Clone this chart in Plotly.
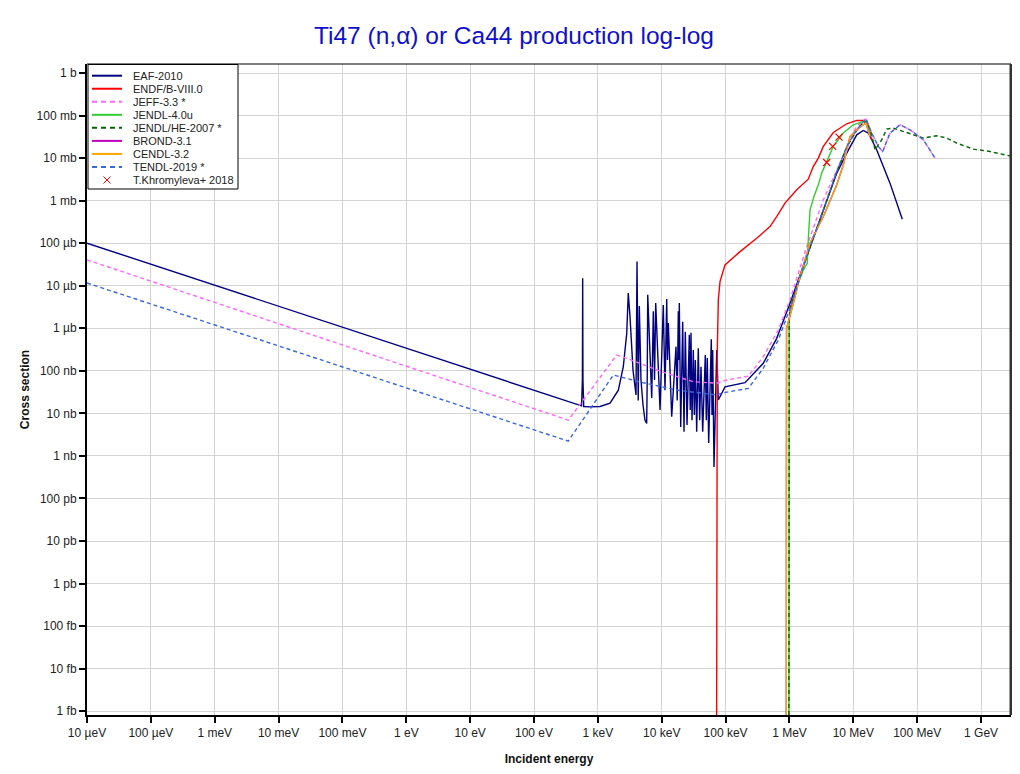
import plotly.graph_objects as go

# ---------------- data: incident energy (eV), cross section (barn) ----------------
x_tick_vals = [1e-5, 1e-4, 1e-3, 1e-2, 1e-1, 1, 10, 100, 1e3, 1e4, 1e5, 1e6, 1e7, 1e8, 1e9]
x_tick_text = ["10 µeV", "100 µeV", "1 meV", "10 meV", "100 meV", "1 eV", "10 eV", "100 eV",
               "1 keV", "10 keV", "100 keV", "1 MeV", "10 MeV", "100 MeV", "1 GeV"]
y_tick_vals = [1e-15, 1e-14, 1e-13, 1e-12, 1e-11, 1e-10, 1e-9, 1e-8, 1e-7, 1e-6,
               1e-5, 1e-4, 1e-3, 1e-2, 1e-1, 1]
y_tick_text = ["1 fb", "10 fb", "100 fb", "1 pb", "10 pb", "100 pb", "1 nb", "10 nb", "100 nb",
               "1 µb", "10 µb", "100 µb", "1 mb", "10 mb", "100 mb", "1 b"]

eaf_2010 = [
    (1e-5, 1.0e-4), (430, 1.75e-8), (555, 1.5e-8), (572, 6e-8), (578, 1.5e-5), (584, 6e-8),
    (600, 1.45e-8), (754, 1.42e-8), (1080, 1.45e-8), (1550, 1.73e-8), (2090, 3.5e-8),
    (2500, 1.25e-7), (2830, 7.6e-7), (2990, 6.7e-6), (3184, 1.87e-6), (3548, 1.04e-7),
    (3954, 2.7e-8), (4100, 3.7e-5), (4280, 2e-8), (4455, 3.35e-6), (4730, 6.1e-8),
    (5090, 1.57e-8), (5470, 6.9e-9), (5810, 5.8e-9), (5920, 6.1e-8), (6030, 6.1e-6),
    (6970, 2.3e-8), (7380, 2.5e-6), (7710, 6.1e-8), (8040, 3.9e-6), (9400, 1.2e-8),
    (10570, 3.5e-6), (11250, 3.5e-8), (11960, 4.9e-6), (12300, 1.8e-7), (12680, 1.33e-6),
    (14320, 8.3e-9), (16720, 3.7e-7), (17460, 2e-8), (18170, 2.5e-6), (18500, 1.8e-7),
    (18840, 3.9e-6), (19820, 4.8e-9), (21290, 1.43e-6), (22320, 3.7e-9), (23390, 8.3e-7),
    (24890, 5.3e-9), (27020, 7e-7), (27920, 1.2e-8), (28710, 7.8e-7), (29780, 6.9e-9),
    (31190, 3.1e-7), (32360, 9.1e-9), (33560, 1.8e-7), (35250, 3.7e-9), (37350, 3.4e-7),
    (39270, 6.9e-9), (41170, 1.25e-7), (43760, 3.7e-9), (48090, 2.35e-7), (49870, 6.9e-9),
    (51660, 2e-7), (54330, 2e-9), (59700, 5.5e-7), (61240, 9.1e-9), (62800, 3.1e-7),
    (65800, 5.5e-10), (72600, 3.1e-7), (76900, 2.06e-8), (97900, 4.2e-8), (201400, 5.25e-8),
    (389000, 1.5e-7), (631000, 5.8e-7), (1.02e6, 3.9e-6), (1.86e6, 4.84e-5), (3.39e6, 6.1e-4),
    (5.5e6, 4.44e-3), (7.88e6, 0.0131), (1.13e7, 0.0353), (1.43e7, 0.0446), (1.72e7, 0.0388),
    (2.32e7, 0.0157), (3.75e7, 2.58e-3), (5.85e7, 3.67e-4),
]

endf_b_viii0 = [
    (71000, 1e-22), (72600, 1.4e-9), (74100, 3.1e-7), (76900, 4.6e-6), (81700, 1.25e-5),
    (97900, 3.08e-5), (168300, 6.34e-5), (306900, 1.31e-4), (495500, 2.46e-4), (631000, 4.23e-4),
    (851000, 8.73e-4), (1.30e6, 1.8e-3), (1.97e6, 3.2e-3), (2.36e6, 6.34e-3), (2.83e6, 0.01),
    (3.39e6, 0.0188), (4.86e6, 0.04), (7.88e6, 0.0641), (1.13e7, 0.0767), (1.43e7, 0.0767),
    (1.62e7, 0.0608), (1.94e7, 0.027),
]

jeff_33 = [
    (1e-5, 4.05e-5), (344, 6.95e-9), (1970, 2.35e-7), (2825, 1.97e-7), (10000, 9.5e-8),
    (31200, 5.54e-8), (72600, 5.1e-8), (100000, 6.0e-8), (227000, 7.5e-8), (389000, 2.15e-7),
    (668000, 9.1e-7), (1.02e6, 4.63e-6), (1.86e6, 8.3e-5), (3.39e6, 1.04e-3), (6.18e6, 7.6e-3),
    (8.87e6, 0.027), (1.13e7, 0.0554), (1.43e7, 0.0767), (1.58e7, 0.0828), (1.94e7, 0.0388),
    (2.46e7, 0.0188), (2.88e7, 0.0143), (3.75e7, 0.0388), (5.38e7, 0.0608), (7.72e7, 0.0463),
    (1.25e8, 0.027), (1.9e8, 0.01),
]

jendl_40u = [
    (973000, 1e-22), (990000, 1.5e-6), (1.02e6, 2.25e-6), (1.3e6, 9.5e-6), (1.65e6, 2.35e-5),
    (1.9e6, 3.38e-5), (1.97e6, 1.2e-4), (2.1e6, 6.08e-4), (2.42e6, 1.25e-3), (2.83e6, 2.35e-3),
    (3.2e6, 4.44e-3), (3.83e6, 8.3e-3), (4.86e6, 0.0188), (6.97e6, 0.0388), (1.0e7, 0.0608),
    (1.43e7, 0.0727), (1.62e7, 0.0688), (1.94e7, 0.0322),
]

jendl_he_2007 = [
    (973000, 1e-22), (990000, 1.5e-6), (1.02e6, 3.0e-6), (1.86e6, 4.7e-5), (3.39e6, 6.0e-4),
    (5.5e6, 4.6e-3), (7.88e6, 0.018), (1.13e7, 0.045), (1.43e7, 0.07), (1.62e7, 0.075),
    (1.94e7, 0.035), (2.19e7, 0.0157), (2.79e7, 0.027), (3.33e7, 0.0481), (4.23e7, 0.0508),
    (6.07e7, 0.0423), (9.83e7, 0.0322), (1.25e8, 0.0296), (2.02e8, 0.0335), (2.9e8, 0.0296),
    (4.16e8, 0.0225), (7.57e8, 0.0163), (1.38e9, 0.0143), (3.0e9, 0.011),
]

brond_31 = [
    (885000, 1e-22), (900000, 1.0e-6), (1.15e6, 3.88e-6), (1.46e6, 1.64e-5), (2.1e6, 1e-4),
    (3.39e6, 4.23e-4), (5.5e6, 2.35e-3), (6.97e6, 6.95e-3), (8.87e6, 0.0322), (1.13e7, 0.0463),
    (1.43e7, 0.0608), (1.58e7, 0.0667), (1.82e7, 0.0322),
]

cendl_32 = [
    (885000, 1e-22), (900000, 1.0e-6), (1.15e6, 3.88e-6), (1.46e6, 1.64e-5), (2.1e6, 1e-4),
    (3.39e6, 4.23e-4), (5.5e6, 2.35e-3), (6.97e6, 6.95e-3), (8.87e6, 0.0322), (1.13e7, 0.0463),
    (1.43e7, 0.0608), (1.58e7, 0.0667), (1.82e7, 0.0322),
]

tendl_2019 = [
    (1e-5, 1.16e-5), (344, 2.23e-9), (1746, 7.96e-8), (5140, 5.25e-8), (17100, 3.53e-8),
    (72600, 2.7e-8), (92000, 3.05e-8), (227000, 3.87e-8), (389000, 1.15e-7), (668000, 5.3e-7),
    (1.02e6, 2.96e-6), (1.86e6, 4.84e-5), (3.39e6, 6.08e-4), (5.5e6, 4.84e-3), (7.88e6, 0.0188),
    (1.13e7, 0.0463), (1.43e7, 0.072), (1.58e7, 0.0828), (1.94e7, 0.0388), (2.46e7, 0.0188),
    (2.88e7, 0.0143), (3.75e7, 0.0388), (5.38e7, 0.0608), (7.72e7, 0.0463), (1.25e8, 0.027),
    (1.9e8, 0.01),
]

khromyleva_2018 = [(3.83e6, 7.87e-3), (4.75e6, 0.0188), (5.97e6, 0.0312)]

# ---------------- styling ----------------
series = [
    ("EAF-2010", eaf_2010, "#000080", "solid"),
    ("ENDF/B-VIII.0", endf_b_viii0, "#ff0000", "solid"),
    ("JEFF-3.3 *", jeff_33, "#ff66ff", "4px,3px"),
    ("JENDL-4.0u", jendl_40u, "#33cc33", "solid"),
    ("JENDL/HE-2007 *", jendl_he_2007, "#006600", "4px,3px"),
    ("BROND-3.1", brond_31, "#c000c0", "solid"),
    ("CENDL-3.2", cendl_32, "#ffa500", "solid"),
    ("TENDL-2019 *", tendl_2019, "#3a66e0", "4px,3px"),
]
exp_name = "T.Khromyleva+ 2018"

OFF = 8  # page body margin in the screenshot
W, H = 1012, 766
L, R, T, B = 79, 9, 56, 59
PW, PH = W - L - R, H - T - B


def xp(px):
    return (px - OFF - L) / PW


def yp(py):
    return (H - B - (py - OFF)) / PH


fig = go.Figure()
for name, pts, color, dash in series:
    fig.add_trace(go.Scatter(
        x=[p[0] for p in pts], y=[p[1] for p in pts], mode="lines", name=name,
        line=dict(color=color, width=1.4, dash=dash), showlegend=False))

fig.add_trace(go.Scatter(
    x=[p[0] for p in khromyleva_2018], y=[p[1] for p in khromyleva_2018], mode="markers",
    name=exp_name, showlegend=False,
    marker=dict(symbol="x-thin", size=7, color="#ff0000", line=dict(width=1.2, color="#ff0000"))))

# ---------------- compact legend box ----------------
shapes = []
annotations = []
shapes.append(dict(type="rect", xref="paper", yref="paper", x0=xp(88), x1=xp(238), y0=yp(189), y1=yp(64.5),
                   line=dict(color="#000000", width=1), fillcolor="#ffffff", layer="above"))
row0, step = 75.7, 13.04
for i, (name, pts, color, dash) in enumerate(series):
    yy = yp(row0 + i * step)
    shapes.append(dict(type="line", xref="paper", yref="paper", x0=xp(92), x1=xp(122), y0=yy, y1=yy,
                       line=dict(color=color, width=2, dash="5px,4px" if dash != "solid" else "solid"),
                       layer="above"))
    annotations.append(dict(text=name, xref="paper", yref="paper", x=xp(131), y=yy, xanchor="left",
                            yanchor="middle", showarrow=False, font=dict(size=11, color="#222222")))
yy_px = row0 + len(series) * step
for dx in (-1, 1):
    shapes.append(dict(type="line", xref="paper", yref="paper", x0=xp(107 - 3.5), x1=xp(107 + 3.5),
                       y0=yp(yy_px - 3.5 * dx), y1=yp(yy_px + 3.5 * dx),
                       line=dict(color="#ff0000", width=1), layer="above"))
annotations.append(dict(text=exp_name, xref="paper", yref="paper", x=xp(131), y=yp(yy_px), xanchor="left",
                        yanchor="middle", showarrow=False, font=dict(size=11, color="#222222")))

# frame: thin top, thick right
shapes.append(dict(type="line", xref="paper", yref="paper", x0=0, x1=1, y0=1, y1=1,
                   line=dict(color="#000000", width=1.2), layer="above"))
shapes.append(dict(type="line", xref="paper", yref="paper", x0=1, x1=1, y0=0, y1=1,
                   line=dict(color="#333333", width=3), layer="above"))

fig.update_layout(
    width=W, height=H,
    margin=dict(l=L, r=R, t=T, b=B),
    paper_bgcolor="#ffffff", plot_bgcolor="#ffffff",
    font=dict(family="Liberation Sans, Arial, sans-serif", size=12, color="#222222"),
    title=dict(text="Ti47 (n,α) or Ca44 production log-log", x=0.5, xanchor="center",
               y=1 - (35 - OFF) / H, yanchor="middle", yref="container",
               font=dict(size=24.5, color="#1010cc", family="Liberation Sans, Arial")),
    shapes=shapes, annotations=annotations,
    xaxis=dict(type="log", range=[-5, 9.469], tickmode="array", tickvals=x_tick_vals, ticktext=x_tick_text,
               showgrid=True, gridcolor="#d4d4d4", gridwidth=1, zeroline=False,
               showline=True, linecolor="#000000", linewidth=2, mirror=False,
               ticks="outside", ticklen=6, tickcolor="#000000", tickwidth=1.5,
               tickfont=dict(size=12, color="#222222"),
               title=dict(text="<b>Incident energy</b>", font=dict(size=12, color="#111111"), standoff=15)),
    yaxis=dict(type="log", range=[-15.09, 0.212], tickmode="array", tickvals=y_tick_vals, ticktext=y_tick_text,
               showgrid=True, gridcolor="#d4d4d4", gridwidth=1, zeroline=False,
               showline=True, linecolor="#000000", linewidth=2, mirror=False,
               ticks="outside", ticklen=6, tickcolor="#000000", tickwidth=1.5,
               tickfont=dict(size=12, color="#222222"),
               title=dict(text="<b>Cross section</b>", font=dict(size=12, color="#111111"), standoff=4)),
)

fig.write_html("out.html")
